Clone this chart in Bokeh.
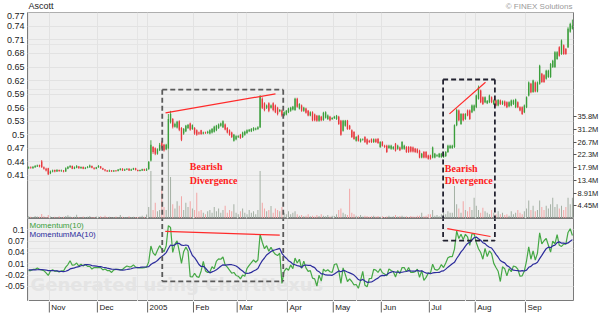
import numpy as np
import pandas as pd
from bokeh.plotting import figure
from bokeh.layouts import column
from bokeh.models import Range1d, LinearAxis, FixedTicker, Grid, Label
from bokeh.core.properties import value
from bokeh.embed import file_html
from bokeh.resources import INLINE

# ---------------- data ----------------
opens = [
    0.426, 0.428, 0.426, 0.428, 0.430, 0.433, 0.441, 0.428, 0.425, 0.426,
    0.415, 0.419, 0.422, 0.419, 0.422, 0.420, 0.421, 0.419, 0.425, 0.428,
    0.431, 0.425, 0.427, 0.430, 0.426, 0.429, 0.425, 0.427, 0.428, 0.431,
    0.427, 0.425, 0.428, 0.430, 0.426, 0.423, 0.421, 0.419, 0.421, 0.419,
    0.421, 0.420, 0.422, 0.425, 0.421, 0.423, 0.425, 0.421, 0.423, 0.426,
    0.422, 0.420, 0.421, 0.424, 0.421, 0.424, 0.443, 0.473, 0.470, 0.458,
    0.466, 0.483, 0.478, 0.468, 0.470, 0.528, 0.535, 0.518, 0.516, 0.530,
    0.515, 0.503, 0.508, 0.515, 0.525, 0.513, 0.515, 0.510, 0.505, 0.510,
    0.503, 0.505, 0.504, 0.503, 0.505, 0.507, 0.510, 0.515, 0.520, 0.517,
    0.523, 0.515, 0.510, 0.505, 0.487, 0.490, 0.495, 0.500, 0.495, 0.500,
    0.504, 0.508, 0.508, 0.510, 0.512, 0.513, 0.517, 0.580, 0.570, 0.560,
    0.570, 0.560, 0.570, 0.565, 0.560, 0.552, 0.554, 0.543, 0.545, 0.550,
    0.553, 0.556, 0.555, 0.580, 0.558, 0.565, 0.553, 0.558, 0.553, 0.543,
    0.550, 0.545, 0.542, 0.531, 0.540, 0.533, 0.538, 0.535, 0.540, 0.535,
    0.537, 0.535, 0.540, 0.531, 0.509, 0.520, 0.531, 0.520, 0.510, 0.506,
    0.487, 0.498, 0.485, 0.489, 0.495, 0.490, 0.487, 0.490, 0.484, 0.490,
    0.491, 0.473, 0.484, 0.476, 0.476, 0.471, 0.469, 0.469, 0.480, 0.469,
    0.472, 0.469, 0.469, 0.473, 0.473, 0.473, 0.472, 0.469, 0.468, 0.465,
    0.450, 0.462, 0.462, 0.454, 0.454, 0.450, 0.450, 0.453, 0.451, 0.451,
    0.451, 0.453, 0.462, 0.471, 0.471, 0.473, 0.521, 0.554, 0.524, 0.546,
    0.535, 0.554, 0.554, 0.550, 0.554, 0.561, 0.580, 0.598, 0.583, 0.572,
    0.570, 0.572, 0.583, 0.568, 0.576, 0.565, 0.576, 0.568, 0.574, 0.572,
    0.563, 0.565, 0.568, 0.561, 0.572, 0.561, 0.561, 0.550, 0.561, 0.587,
    0.613, 0.595, 0.616, 0.596, 0.613, 0.635, 0.632, 0.624, 0.628, 0.628,
    0.650, 0.650, 0.668, 0.694, 0.679, 0.698, 0.690, 0.694, 0.728, 0.735,
]
closes = [
    0.428, 0.427, 0.429, 0.431, 0.432, 0.430, 0.428, 0.425, 0.421, 0.413,
    0.419, 0.421, 0.419, 0.422, 0.420, 0.421, 0.419, 0.426, 0.429, 0.431,
    0.425, 0.428, 0.431, 0.426, 0.429, 0.425, 0.427, 0.429, 0.432, 0.427,
    0.425, 0.428, 0.431, 0.426, 0.423, 0.421, 0.419, 0.421, 0.419, 0.421,
    0.420, 0.423, 0.425, 0.421, 0.423, 0.425, 0.421, 0.423, 0.426, 0.422,
    0.420, 0.422, 0.424, 0.421, 0.424, 0.440, 0.478, 0.462, 0.458, 0.468,
    0.478, 0.471, 0.466, 0.478, 0.535, 0.546, 0.518, 0.524, 0.529, 0.511,
    0.489, 0.513, 0.520, 0.522, 0.511, 0.521, 0.503, 0.500, 0.503, 0.502,
    0.505, 0.504, 0.507, 0.510, 0.513, 0.518, 0.520, 0.523, 0.525, 0.530,
    0.512, 0.505, 0.500, 0.495, 0.500, 0.497, 0.497, 0.493, 0.505, 0.507,
    0.510, 0.511, 0.513, 0.515, 0.514, 0.517, 0.585, 0.560, 0.555, 0.565,
    0.553, 0.565, 0.555, 0.550, 0.546, 0.555, 0.543, 0.550, 0.553, 0.558,
    0.560, 0.562, 0.580, 0.562, 0.568, 0.553, 0.560, 0.549, 0.543, 0.550,
    0.532, 0.532, 0.531, 0.542, 0.532, 0.549, 0.550, 0.543, 0.532, 0.537,
    0.540, 0.542, 0.524, 0.500, 0.531, 0.531, 0.513, 0.513, 0.495, 0.491,
    0.495, 0.487, 0.490, 0.490, 0.484, 0.480, 0.484, 0.484, 0.490, 0.484,
    0.482, 0.484, 0.476, 0.473, 0.462, 0.476, 0.476, 0.473, 0.465, 0.476,
    0.466, 0.484, 0.476, 0.462, 0.462, 0.463, 0.463, 0.462, 0.461, 0.450,
    0.458, 0.450, 0.450, 0.447, 0.447, 0.472, 0.458, 0.455, 0.458, 0.458,
    0.458, 0.462, 0.476, 0.476, 0.476, 0.521, 0.555, 0.532, 0.546, 0.532,
    0.546, 0.543, 0.535, 0.565, 0.565, 0.587, 0.605, 0.572, 0.568, 0.583,
    0.575, 0.587, 0.572, 0.576, 0.565, 0.577, 0.568, 0.574, 0.565, 0.561,
    0.572, 0.576, 0.576, 0.578, 0.561, 0.554, 0.546, 0.565, 0.583, 0.616,
    0.594, 0.620, 0.596, 0.616, 0.653, 0.617, 0.617, 0.642, 0.642, 0.657,
    0.664, 0.683, 0.683, 0.675, 0.709, 0.679, 0.679, 0.735, 0.745, 0.742,
]
highs = [
    0.430, 0.430, 0.431, 0.433, 0.434, 0.434, 0.444, 0.430, 0.427, 0.427,
    0.421, 0.423, 0.423, 0.424, 0.423, 0.423, 0.422, 0.428, 0.431, 0.433,
    0.432, 0.430, 0.433, 0.431, 0.430, 0.430, 0.429, 0.431, 0.434, 0.432,
    0.428, 0.429, 0.433, 0.431, 0.427, 0.424, 0.422, 0.423, 0.422, 0.422,
    0.422, 0.424, 0.426, 0.426, 0.425, 0.426, 0.426, 0.425, 0.427, 0.427,
    0.423, 0.423, 0.425, 0.425, 0.426, 0.442, 0.488, 0.475, 0.472, 0.470,
    0.482, 0.486, 0.480, 0.480, 0.546, 0.553, 0.537, 0.527, 0.531, 0.532,
    0.517, 0.515, 0.522, 0.524, 0.527, 0.523, 0.517, 0.512, 0.507, 0.511,
    0.507, 0.507, 0.509, 0.512, 0.515, 0.520, 0.522, 0.525, 0.527, 0.532,
    0.525, 0.517, 0.512, 0.507, 0.502, 0.499, 0.499, 0.502, 0.507, 0.509,
    0.512, 0.513, 0.515, 0.517, 0.516, 0.519, 0.588, 0.583, 0.572, 0.567,
    0.572, 0.567, 0.572, 0.567, 0.562, 0.557, 0.556, 0.552, 0.555, 0.560,
    0.562, 0.564, 0.582, 0.582, 0.570, 0.567, 0.562, 0.560, 0.555, 0.552,
    0.552, 0.547, 0.544, 0.544, 0.542, 0.551, 0.552, 0.545, 0.542, 0.539,
    0.542, 0.544, 0.542, 0.533, 0.533, 0.533, 0.533, 0.522, 0.512, 0.508,
    0.497, 0.500, 0.492, 0.492, 0.497, 0.492, 0.489, 0.492, 0.492, 0.492,
    0.493, 0.486, 0.486, 0.478, 0.478, 0.478, 0.478, 0.475, 0.482, 0.478,
    0.474, 0.486, 0.478, 0.475, 0.475, 0.475, 0.474, 0.471, 0.470, 0.467,
    0.460, 0.464, 0.464, 0.456, 0.456, 0.474, 0.460, 0.457, 0.460, 0.460,
    0.460, 0.464, 0.478, 0.478, 0.478, 0.523, 0.558, 0.556, 0.548, 0.548,
    0.548, 0.556, 0.556, 0.567, 0.567, 0.589, 0.609, 0.600, 0.585, 0.585,
    0.577, 0.589, 0.585, 0.578, 0.578, 0.579, 0.578, 0.576, 0.576, 0.574,
    0.574, 0.578, 0.578, 0.580, 0.574, 0.563, 0.563, 0.567, 0.585, 0.618,
    0.615, 0.622, 0.618, 0.618, 0.655, 0.637, 0.634, 0.644, 0.644, 0.659,
    0.666, 0.685, 0.685, 0.696, 0.711, 0.700, 0.692, 0.738, 0.748, 0.755,
]
lows = [
    0.425, 0.425, 0.425, 0.427, 0.429, 0.428, 0.427, 0.423, 0.419, 0.411,
    0.413, 0.417, 0.417, 0.418, 0.418, 0.418, 0.417, 0.418, 0.424, 0.427,
    0.424, 0.424, 0.426, 0.425, 0.425, 0.424, 0.424, 0.426, 0.427, 0.426,
    0.423, 0.424, 0.427, 0.425, 0.422, 0.419, 0.418, 0.418, 0.418, 0.418,
    0.418, 0.419, 0.421, 0.420, 0.420, 0.422, 0.420, 0.420, 0.422, 0.421,
    0.419, 0.419, 0.420, 0.420, 0.420, 0.423, 0.441, 0.458, 0.455, 0.456,
    0.464, 0.468, 0.463, 0.466, 0.468, 0.525, 0.514, 0.516, 0.514, 0.508,
    0.486, 0.500, 0.506, 0.513, 0.509, 0.511, 0.500, 0.498, 0.500, 0.500,
    0.501, 0.502, 0.502, 0.501, 0.503, 0.505, 0.508, 0.513, 0.518, 0.515,
    0.510, 0.503, 0.498, 0.493, 0.485, 0.488, 0.493, 0.491, 0.493, 0.498,
    0.502, 0.506, 0.506, 0.508, 0.510, 0.511, 0.515, 0.557, 0.552, 0.557,
    0.550, 0.558, 0.552, 0.548, 0.543, 0.550, 0.540, 0.541, 0.543, 0.548,
    0.551, 0.554, 0.553, 0.560, 0.556, 0.551, 0.551, 0.547, 0.541, 0.541,
    0.530, 0.530, 0.529, 0.529, 0.530, 0.531, 0.536, 0.533, 0.530, 0.533,
    0.535, 0.533, 0.522, 0.498, 0.507, 0.518, 0.511, 0.511, 0.493, 0.489,
    0.485, 0.485, 0.483, 0.487, 0.482, 0.478, 0.482, 0.482, 0.482, 0.482,
    0.480, 0.471, 0.474, 0.471, 0.460, 0.469, 0.467, 0.467, 0.463, 0.467,
    0.464, 0.467, 0.467, 0.460, 0.460, 0.461, 0.461, 0.460, 0.459, 0.448,
    0.448, 0.448, 0.448, 0.445, 0.445, 0.448, 0.448, 0.451, 0.449, 0.449,
    0.449, 0.451, 0.460, 0.469, 0.469, 0.471, 0.519, 0.530, 0.522, 0.530,
    0.533, 0.541, 0.533, 0.548, 0.552, 0.559, 0.578, 0.570, 0.566, 0.570,
    0.568, 0.570, 0.570, 0.566, 0.563, 0.563, 0.566, 0.566, 0.563, 0.559,
    0.561, 0.563, 0.566, 0.559, 0.559, 0.552, 0.544, 0.548, 0.559, 0.585,
    0.592, 0.593, 0.594, 0.594, 0.611, 0.615, 0.615, 0.622, 0.626, 0.626,
    0.648, 0.648, 0.666, 0.673, 0.677, 0.677, 0.677, 0.692, 0.726, 0.733,
]
# volume in millions of shares
volumes = [
    0.8, 0.6, 0.5, 0.9, 0.7, 0.6, 1.6, 0.8, 0.5, 1.2,
    0.7, 0.4, 0.6, 0.5, 0.8, 0.4, 0.6, 0.9, 1.1, 0.7,
    0.5, 0.6, 1.3, 0.5, 0.4, 0.7, 0.5, 0.6, 0.9, 0.4,
    0.5, 0.7, 0.6, 0.8, 0.4, 1.0, 0.5, 0.6, 0.3, 0.5,
    0.7, 0.4, 1.2, 0.6, 0.5, 0.4, 0.8, 0.5, 0.6, 0.4,
    0.5, 0.7, 1.0, 0.6, 1.4, 4.0, 16.6, 3.0, 5.5, 2.5,
    3.0, 10.2, 4.0, 3.0, 24.2, 14.5, 5.0, 3.5, 6.0, 4.5,
    7.8, 3.0, 5.5, 4.0, 6.0, 3.5, 3.0, 9.0, 2.5, 3.0,
    2.0, 1.5, 2.5, 3.0, 2.0, 4.0, 2.5, 3.5, 2.0, 3.0,
    4.5, 2.0, 3.0, 2.5, 5.0, 2.0, 1.5, 2.5, 3.5, 2.0,
    1.5, 3.0, 2.0, 2.5, 1.5, 3.0, 16.6, 5.5, 3.5, 2.5,
    3.0, 4.4, 2.0, 3.5, 3.0, 2.5, 4.0, 2.0, 1.5, 2.5,
    1.5, 2.0, 2.5, 1.5, 1.0, 1.2, 0.8, 1.0, 1.5, 0.8,
    1.0, 0.7, 1.2, 0.9, 1.5, 1.0, 0.8, 1.2, 0.7, 1.0,
    0.9, 1.5, 3.0, 3.5, 2.0, 1.5, 1.2, 10.4, 2.0, 1.5,
    1.0, 0.8, 1.2, 0.7, 1.0, 0.9, 0.6, 0.8, 1.0, 0.7,
    0.9, 0.6, 0.8, 0.5, 0.7, 1.0, 0.6, 0.8, 1.2, 0.7,
    0.9, 1.0, 0.6, 0.8, 0.5, 0.9, 0.7, 0.6, 1.0, 1.0,
    2.0, 0.8, 1.0, 1.5, 1.5, 3.0, 1.0, 1.2, 0.8, 1.5,
    2.0, 1.5, 2.5, 2.0, 2.0, 11.4, 5.0, 3.5, 2.0, 6.0,
    3.0, 2.5, 4.0, 3.0, 7.3, 4.5, 3.0, 2.0, 3.8, 2.5,
    2.0, 1.5, 3.0, 2.0, 1.5, 2.5, 1.5, 2.0, 1.2, 1.5,
    1.0, 2.5, 1.5, 2.0, 3.0, 2.0, 1.5, 2.5, 3.5, 6.3,
    3.0, 4.5, 2.5, 3.0, 6.3, 4.0, 3.0, 4.5, 3.5, 5.0,
    7.3, 4.0, 5.0, 3.5, 4.5, 3.0, 4.0, 7.3, 5.0, 7.3,
]
# closes of the 19 sessions before the window (for the indicator warm-up)
prior_closes = [0.440, 0.441, 0.439, 0.440, 0.442, 0.440, 0.439, 0.441, 0.440,
                0.436, 0.435, 0.434, 0.436, 0.433, 0.435, 0.434, 0.433, 0.435, 0.434]

month_ticks = [9.5, 31.5, 54.5, 75.5, 95.5, 118.5, 139.5, 161.5, 183.5, 204.5, 227.5]
month_labels = ["Nov", "Dec", "2005", "Feb", "Mar", "Apr", "May", "Jun", "Jul", "Aug", "Sep"]
price_ticks = [0.41, 0.44, 0.47, 0.5, 0.53, 0.56, 0.59, 0.62, 0.65, 0.68, 0.71, 0.74, 0.77]
price_labels = ["0.41", "0.44", "0.47", "0.5", "0.53", "0.56", "0.59", "0.62", "0.65",
                "0.68", "0.71", "0.74", "0.77"]
vol_ticks = [4.46, 8.92, 13.38, 17.84, 22.3, 26.76, 31.22, 35.68]
vol_labels = ["4.45M", "8.91M", "13.4M", "17.9M", "22.3M", "26.7M", "31.2M", "35.8M"]
mom_ticks = [0.1, 0.07, 0.04, 0.01, -0.02, -0.05]
mom_labels = ["0.1", "0.07", "0.04", "0.01", "-0.02", "-0.05"]

title_text = "Ascott"
credit_text = "\u00a9 FINEX Solutions"

# annotations: (x0, x1) in sessions, price top, momentum bottom
box1 = dict(x0=61.2, x1=116.6, top=0.600, bottom=-0.0365)
box2 = dict(x0=189.8, x1=213.5, top=0.6224, bottom=0.0716)
price_trend_x = [[62.7, 113.05], [192.7, 209.2]]
price_trend_y = [[0.5487, 0.5907], [0.5464, 0.6165]]
mom_trend_x = [[62.6, 115.0], [191.7, 211.5]]
mom_trend_y = [[0.0957, 0.086], [0.103, 0.0823]]
note_x = [73.8, 190.6]
note_y1 = [0.4292, 0.4248]
note_y2 = [0.3999, 0.3982]

n = len(closes)
assert all(len(a) == n for a in (opens, highs, lows, volumes)), "length"

# ---------------- derived ----------------
x = np.arange(n)
o = np.array(opens); c = np.array(closes); h = np.array(highs); l = np.array(lows)
up = c >= o
UP = "#3a9e3a"
DN = "#e8383d"
cols = [UP if u else DN for u in up]
vcols = ["#a3afa3" if u else "#f2a5a5" for u in up]

allc = pd.Series(prior_closes + closes)
mom_all = allc - allc.shift(10)
ma_all = mom_all.rolling(10).mean()
mom = mom_all.values[-n:]
mom_ma = ma_all.values[-n:]

BG = "#f0f0f0"
GRID = "#e2e2e2"
FONT = "Liberation Sans"
TXT = "#222222"
LB, RB = 27, 29   # left / right borders (px)
FW = 546          # frame width (px)

xr = Range1d(-0.5, n - 0.5)


def strip(height, yr):
    """A frameless strip figure aligned with the panels (for title / month labels)."""
    f = figure(frame_width=FW, frame_height=height, x_range=xr, y_range=Range1d(*yr),
               output_backend="svg", toolbar_location=None,
               x_axis_location=None, y_axis_location=None,
               min_border_left=LB, min_border_right=RB, min_border_top=0, min_border_bottom=0,
               background_fill_color="white", border_fill_color="white",
               outline_line_color=None)
    f.xgrid.visible = False
    f.ygrid.visible = False
    return f


# ---------------- title strip ----------------
pt = strip(12, (0, 12))
pt.text(x=[xr.start], y=[6.2], text=[title_text], x_offset=1,
        text_font=value(FONT), text_font_size=value("9px"), text_color=TXT,
        text_baseline="middle", text_align="left")
pt.text(x=[xr.end], y=[6.5], text=[credit_text], x_offset=-1,
        text_font=value(FONT), text_font_size=value("8px"), text_color="#9a9a9a",
        text_baseline="middle", text_align="right")

# ---------------- price / volume panel ----------------
p1 = figure(frame_width=FW, frame_height=206, x_range=xr,
            y_range=Range1d(0.3148, 0.7707),
            output_backend="svg", toolbar_location=None,
            x_axis_location=None, y_axis_location=None,
            min_border_left=LB, min_border_right=RB, min_border_top=0, min_border_bottom=0,
            background_fill_color=BG, border_fill_color="white",
            outline_line_color="#7a7a7a")
p1.extra_y_ranges = {"vol": Range1d(0, 72.1)}

yax = LinearAxis(ticker=FixedTicker(ticks=price_ticks),
                 major_label_overrides=dict(zip(price_ticks, price_labels)),
                 major_tick_out=0, major_tick_in=0, minor_tick_out=0, minor_tick_in=0,
                 axis_line_color=None, major_label_standoff=3,
                 major_label_text_font=FONT, major_label_text_font_size="9px",
                 major_label_text_color=TXT)
p1.add_layout(yax, "left")
vax = LinearAxis(y_range_name="vol", ticker=FixedTicker(ticks=vol_ticks),
                 major_label_overrides=dict(zip(vol_ticks, vol_labels)),
                 major_tick_out=3, major_tick_in=0, minor_tick_out=0, minor_tick_in=0,
                 major_tick_line_color="#555555",
                 axis_line_color=None, major_label_standoff=1,
                 major_label_text_font=FONT, major_label_text_font_size="7.5px",
                 major_label_text_color=TXT)
p1.add_layout(vax, "right")
p1.add_layout(Grid(dimension=1, ticker=FixedTicker(ticks=price_ticks), grid_line_color=GRID))
p1.add_layout(Grid(dimension=0, ticker=FixedTicker(ticks=month_ticks), grid_line_color=GRID))

p1.vbar(x=x, top=volumes, bottom=0, width=0.45, y_range_name="vol",
        fill_color=vcols, line_color=None)
p1.segment(x0=x, y0=l, x1=x, y1=h, line_color=cols, line_width=0.9)
p1.vbar(x=x, top=np.maximum(o, c), bottom=np.minimum(o, c), width=0.62,
        fill_color=cols, line_color=None)

# dashed boxes (price part)
for b, col in ((box1, "#5a5a5a"), (box2, "#222230")):
    p1.segment(x0=[b["x0"], b["x0"], b["x1"]], y0=[b["top"], b["top"], b["top"]],
               x1=[b["x1"], b["x0"], b["x1"]], y1=[b["top"], 0.2, 0.2],
               line_color=col, line_width=1.8, line_dash="5 3")
p1.multi_line(xs=price_trend_x, ys=price_trend_y, line_color="#ff2a2a", line_width=1.2)

for xi, y1, y2 in zip(note_x, note_y1, note_y2):
    for txt, yy in (("Bearish", y1), ("Divergence", y2)):
        p1.add_layout(Label(x=xi, y=yy, text=txt, text_font="Liberation Serif",
                            text_font_style="bold", text_font_size="10px",
                            text_color="#ff2020", text_baseline="middle"))

# ---------------- momentum panel ----------------
p2 = figure(frame_width=FW, frame_height=83, x_range=xr,
            y_range=Range1d(-0.09, 0.13),
            output_backend="svg", toolbar_location=None,
            x_axis_location=None, y_axis_location=None,
            min_border_left=LB, min_border_right=RB, min_border_top=0, min_border_bottom=0,
            background_fill_color=BG, border_fill_color="white",
            outline_line_color="#7a7a7a")
may = LinearAxis(ticker=FixedTicker(ticks=mom_ticks),
                 major_label_overrides=dict(zip(mom_ticks, mom_labels)),
                 major_tick_out=0, major_tick_in=0, minor_tick_out=0, minor_tick_in=0,
                 axis_line_color=None, major_label_standoff=3,
                 major_label_text_font=FONT, major_label_text_font_size="8.5px",
                 major_label_text_color=TXT)
p2.add_layout(may, "left")
p2.add_layout(Grid(dimension=1, ticker=FixedTicker(ticks=mom_ticks), grid_line_color=GRID))
p2.add_layout(Grid(dimension=0, ticker=FixedTicker(ticks=month_ticks), grid_line_color=GRID))

p2.add_layout(Label(x=0.9, y=-0.0727, text="Generated using ChartNexus",
                    text_font="DejaVu Sans", text_font_style="bold", text_font_size="18px",
                    text_color="#e4e4e4", level="underlay"))

p2.line(x, mom, line_color="#45a845", line_width=1.2)
p2.line(x, mom_ma, line_color="#2c2c9c", line_width=1.2)

for b, col in ((box1, "#5a5a5a"), (box2, "#222230")):
    p2.segment(x0=[b["x0"], b["x1"], b["x0"]], y0=[0.2, 0.2, b["bottom"]],
               x1=[b["x0"], b["x1"], b["x1"]], y1=[b["bottom"], b["bottom"], b["bottom"]],
               line_color=col, line_width=1.8, line_dash="5 3")
p2.multi_line(xs=mom_trend_x, ys=mom_trend_y, line_color="#ff2a2a", line_width=1.2)

p2.add_layout(Label(x=2, y=76, x_units="screen", y_units="screen", text="Momentum(10)",
                    text_font=FONT, text_font_size="8px", text_color="#3a9e3a",
                    text_baseline="middle"))
p2.add_layout(Label(x=2, y=67.5, x_units="screen", y_units="screen", text="MomentumMA(10)",
                    text_font=FONT, text_font_size="8px", text_color="#2c2c9c",
                    text_baseline="middle"))

# ---------------- month axis strip ----------------
pb = strip(13, (0, 13))
nt = len(month_ticks)
pb.segment(x0=month_ticks, y0=[13] * nt, x1=month_ticks, y1=[2] * nt,
           line_color="#666666", line_width=1)
pb.text(x=month_ticks, y=[7] * nt, text=month_labels, x_offset=2,
        text_font=value(FONT), text_font_size=value("8px"), text_color=TXT,
        text_baseline="middle", text_align="left")

layout = column(pt, p1, p2, pb, spacing=0)
open("out.html", "w").write(file_html(layout, INLINE))
